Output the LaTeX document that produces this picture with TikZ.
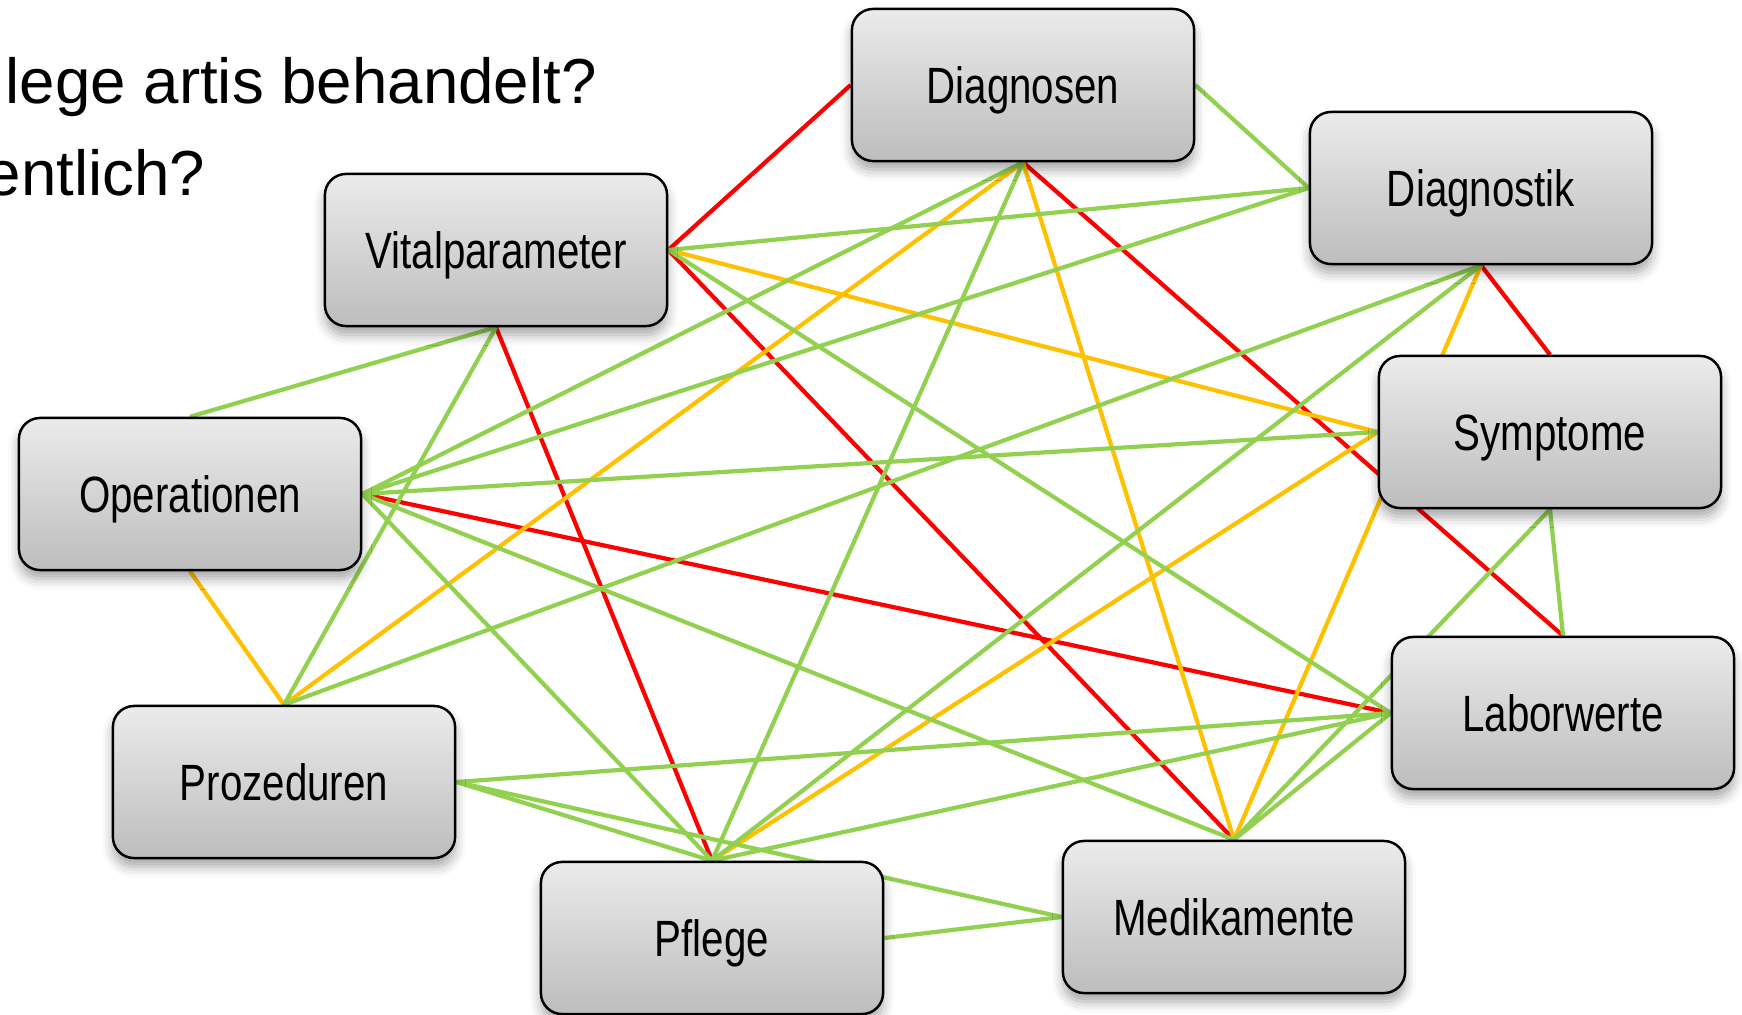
\documentclass[tikz,border=0pt]{standalone}
\usepackage{fontspec}
\setmainfont{Liberation Sans}
\newfontfamily\narrowfont{Liberation Sans}[FakeStretch=0.79]
\usetikzlibrary{backgrounds}
\usetikzlibrary{shadows.blur}

\definecolor{linkred}{HTML}{FF0000}
\definecolor{linkgreen}{HTML}{92D050}
\definecolor{linkyellow}{HTML}{FFC000}
\definecolor{boxtop}{HTML}{EBEBEB}
\definecolor{boxbottom}{HTML}{BDBDBD}

\tikzset{
  topic/.style={draw=black, line width=0.7pt, rounded corners=6pt,
    top color=boxtop, bottom color=boxbottom,
    minimum width=3.42cm, minimum height=1.52cm, inner sep=0pt,
    font=\narrowfont\fontsize{14.5}{17}\selectfont,
    text height=10.4pt, text depth=0pt,
    blur shadow={shadow xshift=0pt, shadow yshift=-2.5pt, shadow blur radius=3pt, shadow opacity=35}},
  question/.style={inner sep=0pt, font=\fontsize{18.1}{22}\selectfont},
  red link/.style={linkred, line width=1.2pt},
  green link/.style={linkgreen, line width=1.2pt},
  yellow link/.style={linkyellow, line width=1.2pt}
}

\begin{document}
\begin{tikzpicture}[x=0.01cm, y=-0.01cm]
\useasboundingbox (0,0) rectangle (1742,1015);
\clip (0,0) rectangle (1742,1015);

\node[question, anchor=base west] (frage1) at (5,103) {lege artis behandelt?};
\node[question, anchor=base east] (frage2) at (206,195) {entlich?};

\node[topic] (diagnosen) at (1023,85) {Diagnosen};
\node[topic] (diagnostik) at (1481,188) {Diagnostik};
\node[topic] (vital) at (496,250) {Vitalparameter};
\node[topic] (symptome) at (1550,432) {Symptome};
\node[topic] (oper) at (190,494) {Operationen};
\node[topic] (labor) at (1563,713) {Laborwerte};
\node[topic] (proz) at (284,782) {Prozeduren};
\node[topic] (pflege) at (712,938) {Pflege};
\node[topic] (medi) at (1234,917) {Medikamente};

\begin{scope}[on background layer]
\foreach \a/\b in {diagnosen.west/vital.east, diagnosen.south/labor.north,
    diagnostik.south/symptome.north, vital.east/medi.north,
    vital.south/pflege.north, oper.east/labor.west} {
  \draw[red link] (\a) -- (\b);
}
\foreach \a/\b in {diagnosen.south/proz.north, diagnosen.south/medi.north,
    diagnostik.south/medi.north, vital.east/symptome.west,
    oper.south/proz.north, pflege.north/symptome.west} {
  \draw[yellow link] (\a) -- (\b);
}
\foreach \a/\b in {diagnosen.east/diagnostik.west, diagnostik.west/vital.east,
    diagnostik.west/oper.east, diagnosen.south/oper.east,
    diagnosen.south/pflege.north, diagnostik.south/proz.north,
    diagnostik.south/pflege.north, vital.east/labor.west,
    vital.south/oper.north, vital.south/proz.north,
    oper.east/symptome.west, oper.east/medi.north, oper.east/pflege.north,
    proz.east/labor.west, proz.east/medi.west, proz.east/pflege.north,
    pflege.east/medi.west, pflege.north/labor.west,
    medi.north/labor.west, medi.north/symptome.south,
    symptome.south/labor.north} {
  \draw[green link] (\a) -- (\b);
}
\end{scope}
\end{tikzpicture}
\end{document}
